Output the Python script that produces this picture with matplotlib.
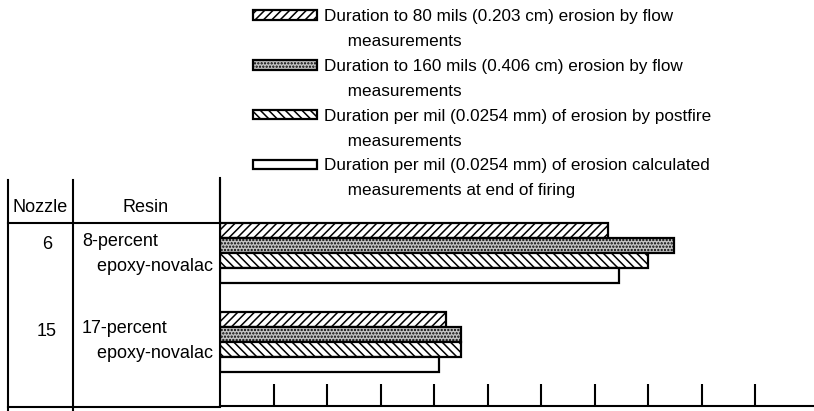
import matplotlib
matplotlib.use("Agg")
import matplotlib.pyplot as plt
from matplotlib.patches import Patch
import numpy as np

# ---- data ----
nozzles = ["6", "15"]
resins = ["8-percent\n   epoxy-novalac", "17-percent\n   epoxy-novalac"]
series_labels = [
    "Duration to 80 mils (0.203 cm) erosion by flow",
    "Duration to 160 mils (0.406 cm) erosion by flow",
    "Duration per mil (0.0254 mm) of erosion by postfire",
    "Duration per mil (0.0254 mm) of erosion calculated",
]
series_label_cont = [
    "measurements",
    "measurements",
    "measurements",
    "measurements at end of firing",
]
dur_80mil = [7.25, 4.22]
dur_160mil = [8.49, 4.50]
dur_postfire = [8.00, 4.50]
dur_calculated = [7.46, 4.09]
tick_positions = list(range(1, 11))

FONT = ["Liberation Sans", "DejaVu Sans"]
plt.rcParams["font.family"] = FONT
plt.rcParams["hatch.linewidth"] = 1.1
FS_LEG = 12.3
FS_TAB = 13

W, H = 814, 411
fig = plt.figure(figsize=(W / 100, H / 100), dpi=100)

# overlay axes in pixel coordinates for the table
tab = fig.add_axes([0, 0, 1, 1])
tab.set_xlim(0, W)
tab.set_ylim(H, 0)
tab.axis("off")

ax = fig.add_axes([220 / W, (H - 406) / H, (W - 220) / W, (406 - 178) / H])
ax.set_facecolor("none")

series = [dur_80mil, dur_160mil, dur_postfire, dur_calculated]
hatches = ["////", ".....", "\\\\\\\\", ""]
faces = ["white", "#c4c4c4", "white", "white"]
group_gap = 5.93
bars = []
for j, vals in enumerate(series):
    ys = np.arange(len(vals)) * group_gap + j
    b = ax.barh(ys, vals, height=1.0, left=0, color=faces[j], edgecolor="black",
                linewidth=1.6, hatch=hatches[j], label=series_labels[j])
    bars.append(b)

ax.set_xlim(0, (W - 220) / 53.5)
ax.set_ylim(11.7, -3.5)
ax.set_xticks(tick_positions)
ax.set_xticklabels([])
ax.set_yticks([])
ax.tick_params(axis="x", direction="in", length=16, width=1.5, color="black")
for s in ["top", "right"]:
    ax.spines[s].set_visible(False)
ax.spines["left"].set_linewidth(1.5)
ax.spines["bottom"].set_linewidth(1.5)

# legend: each series + indented continuation line
handles, labels = [], []
blank = Patch(facecolor="none", edgecolor="none")
for j in range(4):
    handles.append(bars[j])
    labels.append(series_labels[j])
    handles.append(blank)
    labels.append("     " + series_label_cont[j])
fig.legend(handles, labels, loc="upper left", bbox_to_anchor=(253 / W, 1 - 9 / H),
           bbox_transform=fig.transFigure, frameon=False, borderpad=0,
           borderaxespad=0, handlelength=3.75, handleheight=0.5,
           handletextpad=0.42, labelspacing=0.58, prop={"size": FS_LEG, "family": FONT})

# table lines
lw = 1.5
for x in [8, 73]:
    tab.plot([x, x], [180, H], color="black", lw=lw)
tab.plot([220, 220], [180, 223], color="black", lw=lw)
tab.plot([8, 220], [223, 223], color="black", lw=lw)
tab.plot([8, 220], [407, 407], color="black", lw=lw)

tab.text(40.5, 207, "Nozzle", ha="center", va="center", fontsize=FS_TAB)
tab.text(146, 207, "Resin", ha="center", va="center", fontsize=FS_TAB)
noz_y = [244, 331]
for i in range(len(nozzles)):
    tab.text(47, noz_y[i], nozzles[i], ha="center", va="center", fontsize=FS_TAB)
    tab.text(82, noz_y[i] - 11, resins[i], ha="left", va="top", fontsize=FS_TAB,
             linespacing=1.6)

fig.savefig("out.png", dpi=100)
